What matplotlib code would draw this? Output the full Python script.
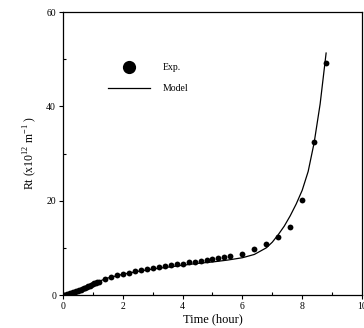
import matplotlib
matplotlib.use('Agg')
import matplotlib.pyplot as plt
from matplotlib.lines import Line2D
from matplotlib.ticker import MultipleLocator
import numpy as np

plt.rcParams['font.family'] = ['Liberation Serif', 'DejaVu Serif']
plt.rcParams['mathtext.fontset'] = 'custom'
plt.rcParams['mathtext.rm'] = 'Liberation Serif'

# experimental points (time in hour, Rt in 1e12 m-1)
exp_t = [0.0, 0.05, 0.1, 0.15, 0.2, 0.25, 0.3, 0.35, 0.4, 0.45, 0.5, 0.55, 0.6,
         0.65, 0.7, 0.75, 0.8, 0.85, 0.9, 0.95, 1.0, 1.05, 1.1, 1.15, 1.2,
         1.4, 1.6, 1.8, 2.0, 2.2, 2.4, 2.6, 2.8, 3.0, 3.2, 3.4, 3.6, 3.8, 4.0,
         4.2, 4.4, 4.6, 4.8, 5.0, 5.2, 5.4, 5.6, 6.0, 6.4, 6.8, 7.2, 7.6, 8.0,
         8.4, 8.8]
exp_rt = [0.0, 0.05, 0.1, 0.18, 0.25, 0.35, 0.45, 0.55, 0.65, 0.75, 0.88, 1.0, 1.12,
          1.25, 1.4, 1.55, 1.7, 1.85, 2.0, 2.15, 2.3, 2.45, 2.55, 2.7, 2.85,
          3.35, 3.75, 4.2, 4.55, 4.75, 5.0, 5.3, 5.5, 5.8, 6.0, 6.2, 6.4, 6.65, 6.65,
          6.9, 6.9, 7.2, 7.5, 7.6, 7.8, 8.1, 8.3, 8.7, 9.75, 10.8, 12.3, 14.4, 20.1,
          32.4, 49.2]

# model curve
model_t = [0, 0.2, 0.4, 0.6, 0.8, 1.0, 1.2, 1.5, 2.0, 2.5, 3.0, 3.5, 4.0, 4.5,
           5.0, 5.5, 6.0, 6.4, 6.8, 7.0, 7.2, 7.4, 7.6, 7.8, 8.0, 8.2, 8.4, 8.6, 8.8]
model_rt = [0, 0.3, 0.7, 1.2, 1.8, 2.4, 2.9, 3.6, 4.4, 5.0, 5.5, 5.9, 6.3, 6.7,
            7.0, 7.4, 7.9, 8.6, 10.0, 11.2, 12.8, 14.6, 16.8, 19.3, 22.2, 26.2,
            32.3, 40.5, 51.3]

fig = plt.figure(figsize=(3.64, 3.28), dpi=100)
ax = fig.add_axes([0.173, 0.1006, 0.8215, 0.8628])

ax.plot(model_t, model_rt, color='black', lw=0.9)
ax.plot(exp_t, exp_rt, 'o', color='black', ms=4.2, mew=0)

ax.set_xlim(0, 10)
ax.set_ylim(0, 60)
ax.xaxis.set_major_locator(MultipleLocator(2))
ax.xaxis.set_minor_locator(MultipleLocator(1))
ax.yaxis.set_major_locator(MultipleLocator(20))
ax.yaxis.set_minor_locator(MultipleLocator(10))
ax.tick_params(which='major', direction='out', length=3, width=0.8, labelsize=7, pad=2)
ax.tick_params(which='minor', direction='in', length=2.5, width=0.8)
for s in ax.spines.values():
    s.set_linewidth(0.9)

ax.set_xlabel('Time (hour)', fontsize=9, labelpad=1.5)
ax.set_ylabel('Rt (x10$^{12}$ m$^{-1}$ )', fontsize=8.5, labelpad=5)

handles = [Line2D([], [], marker='o', color='black', ls='none', ms=9.5, mew=0),
           Line2D([], [], color='black', lw=0.9)]
ax.legend(handles, ['Exp.', 'Model'], frameon=False, fontsize=7,
          loc='upper left', bbox_to_anchor=(0.133, 0.836), handlelength=4.4,
          handletextpad=1.3, labelspacing=1.2, borderpad=0)

fig.savefig('out.png', dpi=100)
